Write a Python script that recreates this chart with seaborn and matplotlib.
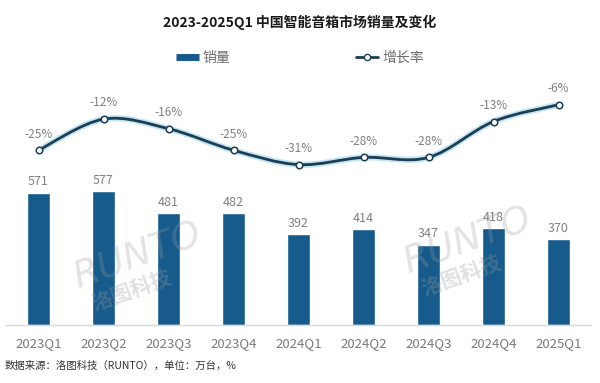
import matplotlib
matplotlib.use("Agg")
import matplotlib.pyplot as plt
import seaborn as sns
from matplotlib.path import Path
from matplotlib.patches import PathPatch
from matplotlib.lines import Line2D

# ---------- DATA ----------
quarters = ["2023Q1", "2023Q2", "2023Q3", "2023Q4", "2024Q1",
            "2024Q2", "2024Q3", "2024Q4", "2025Q1"]
sales = [571, 577, 481, 482, 392, 414, 347, 418, 370]      # 万台
growth = [-25, -12, -16, -25, -31, -28, -28, -13, -6]       # %

TITLE = "2023-2025Q1 中国智能音箱市场销量及变化"
FOOTER = "数据来源：洛图科技（RUNTO），单位：万台，%"

BAR_COLOR = "#175b8c"
LINE_COLOR = "#1c3d54"
GLOW_COLOR = "#a8dbee"
LABEL_GRAY = "#808080"

sns.set_theme(style="white")
plt.rcParams['font.family'] = ['Noto Sans CJK SC', 'DejaVu Sans']

fig = plt.figure(figsize=(6, 3.83), dpi=100)
ax = fig.add_axes([0.01, 0.1514, 0.975, 0.627])

# --- bars ---
sns.barplot(x=quarters, y=sales, color=BAR_COLOR, width=0.36,
            saturation=1, ax=ax)
ax.set_xlim(-0.5, len(quarters) - 0.5)
ax.set_ylim(0, 1035)
ax.set_yticks([])
ax.set_ylabel("")
for s in ["top", "left", "right"]:
    ax.spines[s].set_visible(False)
ax.spines["bottom"].set_color("#d9d9d9")
ax.spines["bottom"].set_linewidth(1)
ax.tick_params(axis="x", length=0, pad=9, labelsize=9.5, labelcolor="#7a7a7a")

for i, v in enumerate(sales):
    ax.annotate(f"{v}", (i, v), xytext=(0, 3), textcoords="offset points",
                ha="center", va="bottom", fontsize=9, color=LABEL_GRAY)

# --- smoothed growth line on twin axis ---
ax2 = ax.twinx()
ax2.set_ylim(-98, 2.3)
ax2.set_yticks([])
for s in ax2.spines.values():
    s.set_visible(False)

pts = list(zip(range(len(growth)), growth))
verts = [pts[0]]
codes = [Path.MOVETO]
n = len(pts)
for i in range(n - 1):
    p0 = pts[max(i - 1, 0)]
    p1 = pts[i]
    p2 = pts[i + 1]
    p3 = pts[min(i + 2, n - 1)]
    c1 = (p1[0] + (p2[0] - p0[0]) / 6, p1[1] + (p2[1] - p0[1]) / 6)
    c2 = (p2[0] - (p3[0] - p1[0]) / 6, p2[1] - (p3[1] - p1[1]) / 6)
    verts += [c1, c2, p2]
    codes += [Path.CURVE4] * 3
curve = Path(verts, codes)
ax2.add_patch(PathPatch(curve, fill=False, edgecolor=GLOW_COLOR, lw=4.5,
                        alpha=0.7, zorder=2))
ax2.add_patch(PathPatch(curve, fill=False, edgecolor=LINE_COLOR, lw=2,
                        zorder=3))
sns.scatterplot(x=list(range(len(growth))), y=growth, ax=ax2, s=22,
                color="white", edgecolor=LINE_COLOR, linewidth=1.1, zorder=4)

for i, g in enumerate(growth):
    ax2.annotate(f"{g}%", (i, g), xytext=(0, 7), textcoords="offset points",
                 ha="center", va="bottom", fontsize=8.5, color=LABEL_GRAY)

# --- watermarks ---
for (x0, y0) in [(0.23, 0.33), (0.78, 0.37)]:
    fig.text(x0, y0, "RUNTO", fontsize=27, style="italic", color="#9a9a9a",
             alpha=0.28, rotation=20, ha="center", va="center",
             family=["DejaVu Sans"])
    fig.text(x0 - 0.01, y0 - 0.09, "洛图科技", fontsize=15, fontweight="bold",
             color="#9a9a9a", alpha=0.3, rotation=20, ha="center", va="center")

# --- title, legend, footer ---
fig.text(0.5, 1 - 22 / 383, TITLE, ha="center", va="center",
         fontsize=10, fontweight="bold", color="#1a1a1a")

handles = [
    Line2D([0], [0], color=BAR_COLOR, lw=5, solid_capstyle="butt"),
    Line2D([0], [0], color=LINE_COLOR, lw=2, marker="o", markersize=4.5,
           markerfacecolor="white", markeredgecolor=LINE_COLOR),
]
fig.legend(handles, ["销量", "增长率"], loc="center",
           bbox_to_anchor=(0.5, 1 - 58 / 383), ncol=2, frameon=False,
           fontsize=10, labelcolor="#6e6e6e", columnspacing=9,
           handlelength=1.6, handletextpad=0.3)

fig.text(0.008, 1 - 366 / 383, FOOTER, ha="left", va="center",
         fontsize=7.5, color="#333333")

fig.savefig("out.png", dpi=100, facecolor="white")
